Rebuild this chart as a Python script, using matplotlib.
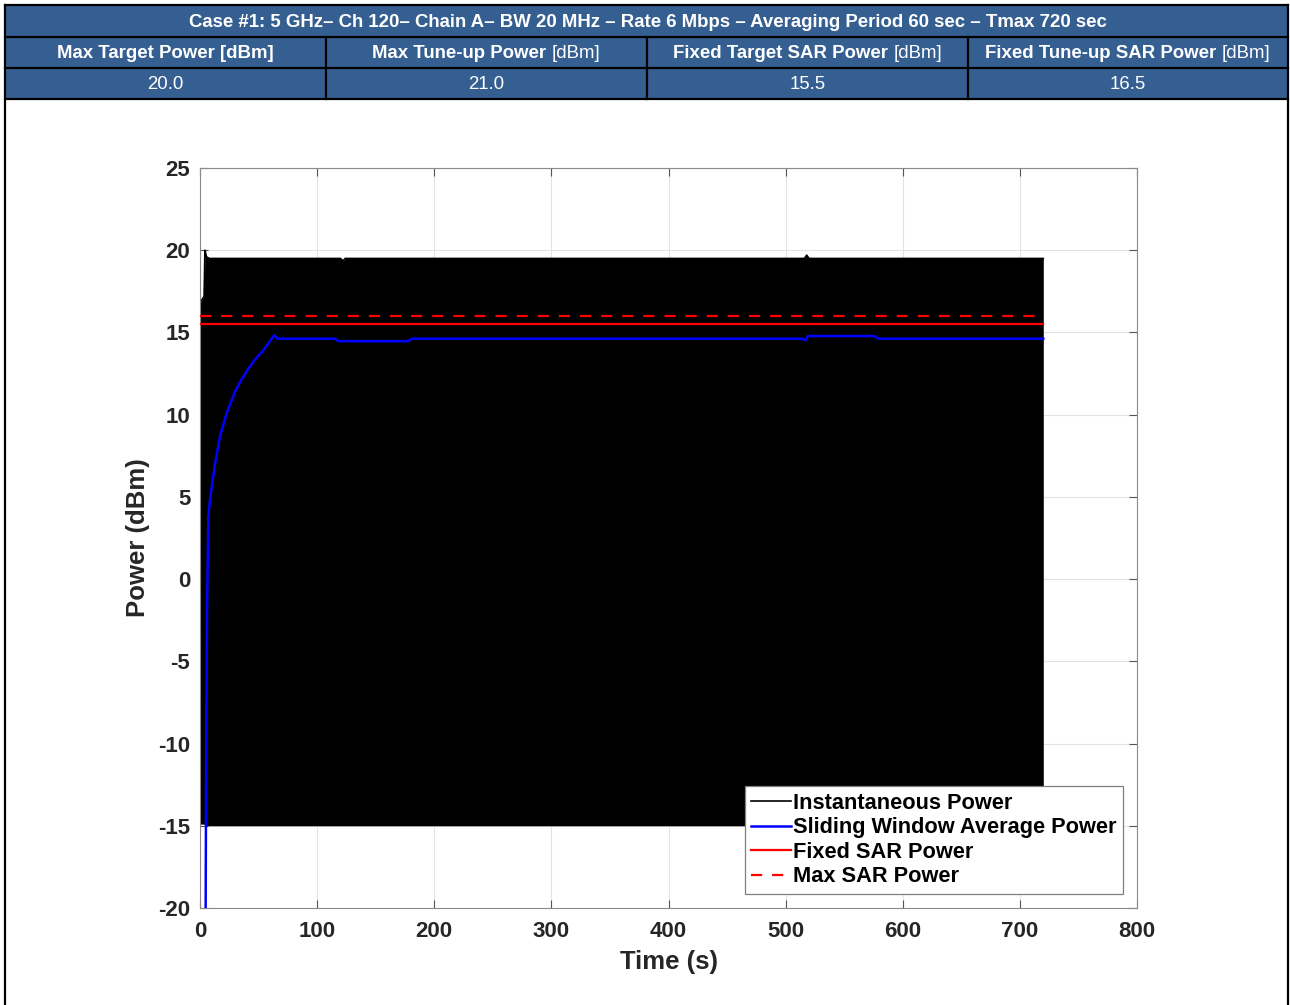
import numpy as np
import matplotlib
matplotlib.use("Agg")
import matplotlib.pyplot as plt
from matplotlib.patches import Rectangle

plt.rcParams['font.family'] = ['Liberation Sans', 'DejaVu Sans']
plt.rcParams['axes.unicode_minus'] = False

# ---- table contents ----
case_title = ("Case #1: 5 GHz\u2013 Ch 120\u2013 Chain A\u2013 BW 20 MHz \u2013 Rate 6 Mbps "
              "\u2013 Averaging Period 60 sec \u2013 Tmax 720 sec")
head_bold = ["Max Target Power [dBm]", "Max Tune-up Power ", "Fixed Target SAR Power ",
             "Fixed Tune-up SAR Power "]
head_norm = ["", "[dBm]", "[dBm]", "[dBm]"]
head_vals = ["20.0", "21.0", "15.5", "16.5"]

# ---- chart data ----
# instantaneous power: upper / lower envelope of the fast on/off signal
t_inst = [0, 3.5, 4.2, 5.5, 8, 120, 122, 124, 516, 518, 520, 720]
p_hi = [16.8, 17.2, 20.0, 19.6, 19.5, 19.5, 19.35, 19.5, 19.5, 19.7, 19.5, 19.5]
p_lo = [-14.9, -14.9, -15.0, -15.0, -15.0, -15.0, -15.0, -15.0, -15.0, -15.0, -15.0, -15.0]

# sliding window average
t_avg = [4.6, 5.2, 6.0, 7.1, 8.5, 10.0, 12.8, 17.1, 22.8, 29.9, 35.5, 41.3, 47.0, 52.7,
         58.0, 63.5, 66, 115, 118, 178, 181, 514, 517, 519, 576, 579, 720]
p_avg = [-25, -12, -2, 3.8, 4.8, 5.6, 7.0, 8.7, 10.1, 11.4, 12.15, 12.8, 13.35, 13.8,
         14.3, 14.84, 14.62, 14.62, 14.47, 14.47, 14.62, 14.62, 14.52, 14.78, 14.78,
         14.62, 14.62]

t_sar = [0, 720]
fixed_sar = [15.5, 15.5]
max_sar = [16.0, 16.0]

W, H = 1290, 1005
fig = plt.figure(figsize=(W / 100, H / 100), dpi=100)

# background layer in pixel coordinates for the table + frame
bg = fig.add_axes([0, 0, 1, 1])
bg.set_xlim(0, W)
bg.set_ylim(H, 0)
bg.axis('off')

blue = '#365f91'
cols = [5, 326, 647, 968, 1288]
rows = [5, 37, 68, 99]
bg.add_patch(Rectangle((cols[0], rows[0]), cols[-1] - cols[0], rows[-1] - rows[0],
                       facecolor=blue, edgecolor='none'))
for y in rows:
    bg.plot([cols[0], cols[-1]], [y, y], color='black', lw=1.6)
for x in [cols[0], cols[-1]]:
    bg.plot([x, x], [rows[0], H], color='black', lw=1.6)
for x in cols[1:-1]:
    bg.plot([x, x], [rows[1], rows[-1]], color='black', lw=1.6)

bg.text((cols[0] + cols[-1]) / 2 + 1, (rows[0] + rows[1]) / 2 + 1, case_title, color='white',
        fontsize=13.4, fontweight='bold', ha='center', va='center')

renderer = fig.canvas.get_renderer()
for i in range(4):
    cx = (cols[i] + cols[i + 1]) / 2
    cy = (rows[1] + rows[2]) / 2 + 1
    tb = bg.text(0, cy, head_bold[i], color='white', fontsize=13.4, fontweight='bold',
                 ha='left', va='center')
    tn = bg.text(0, cy, head_norm[i], color='white', fontsize=13.4, ha='left', va='center')
    wb = tb.get_window_extent(renderer).width if head_bold[i] else 0
    wn = tn.get_window_extent(renderer).width if head_norm[i] else 0
    x0 = cx - (wb + wn) / 2
    tb.set_x(x0)
    tn.set_x(x0 + wb)
    bg.text(cx, (rows[2] + rows[3]) / 2 + 1, head_vals[i], color='white', fontsize=13.4,
            ha='center', va='center')

# ---- main plot ----
ax = fig.add_axes([200 / W, 1 - 908 / H, 937 / W, 740 / H])
ax.fill_between(t_inst, p_lo, p_hi, color='black', lw=0, zorder=2)
ax.plot(t_inst, p_hi, color='black', lw=1.2, label='Instantaneous Power', zorder=2)
ax.plot(t_avg, p_avg, color='#0000ff', lw=1.8, label='Sliding Window Average Power', zorder=3)
ax.plot(t_sar, fixed_sar, color='#ff0000', lw=1.6, label='Fixed SAR Power', zorder=3)
ax.plot(t_sar, max_sar, color='#ff0000', lw=1.6, ls=(0, (5, 4.5)), label='Max SAR Power',
        zorder=3)

ax.set_xlim(0, 800)
ax.set_ylim(-20, 25)
ax.set_xticks(np.arange(0, 801, 100))
ax.set_yticks(np.arange(-20, 26, 5))
ax.grid(True, color='#e3e3e3', lw=0.8)
ax.set_axisbelow(True)
for s in ax.spines.values():
    s.set_color('#8a8a8a')
    s.set_linewidth(0.8)
ax.tick_params(direction='in', length=6, width=0.8, color='#555555', top=True, right=True,
               labelsize=16, labelcolor='#262626')
ax.tick_params(axis='x', pad=9)
ax.tick_params(axis='y', pad=7)
for lab in ax.get_xticklabels() + ax.get_yticklabels():
    lab.set_fontweight('bold')

ax.set_xlabel('Time (s)', fontsize=18.5, fontweight='bold', color='#262626', labelpad=6)
ax.set_ylabel('Power (dBm)', fontsize=18.5, fontweight='bold', color='#262626', labelpad=6)

leg = ax.legend(loc='lower right', bbox_to_anchor=(0.985, 0.019), borderaxespad=0,
                prop={'size': 15.7, 'weight': 'bold'}, handlelength=1.8, handletextpad=0.1,
                labelspacing=0.16, borderpad=0.3, fancybox=False, framealpha=1,
                edgecolor='#7f7f7f')
leg.get_frame().set_linewidth(0.9)

fig.savefig('out.png', dpi=100)
